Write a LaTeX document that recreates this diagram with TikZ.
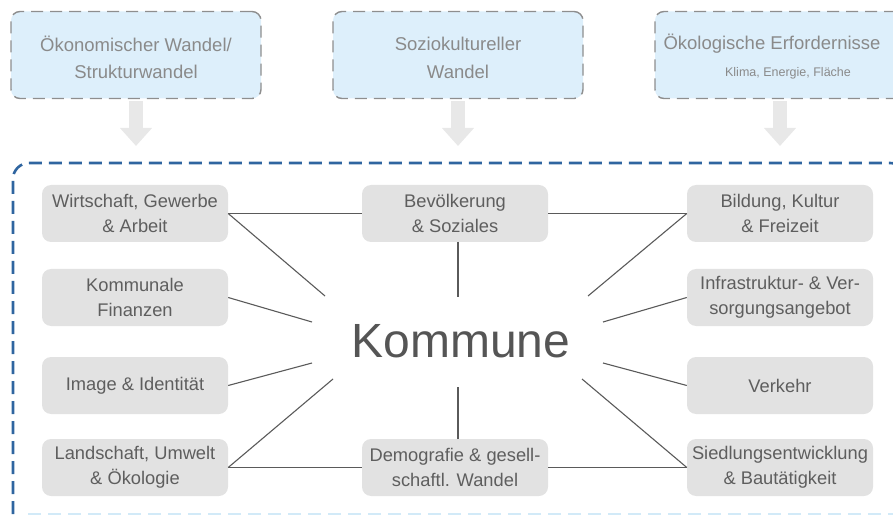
\documentclass[tikz,border=0pt]{standalone}
\usepackage{fontspec}
\setmainfont{Liberation Sans}
\usetikzlibrary{arrows.meta}
\definecolor{topfill}{HTML}{DDEFFB}
\definecolor{topdash}{HTML}{8E8E8E}
\definecolor{toptext}{HTML}{8A8A8A}
\definecolor{boxfill}{HTML}{E2E2E2}
\definecolor{boxtext}{HTML}{5E5E5E}
\definecolor{linecol}{HTML}{5A5A5A}
\definecolor{contblue}{HTML}{2F65A0}
\definecolor{contlight}{HTML}{D2EAF8}
\definecolor{arrowgrey}{HTML}{E8E8E8}
\definecolor{kommcol}{HTML}{555555}
\tikzset{
  topbox/.style={draw=topdash, fill=topfill, line width=1.4pt, dash pattern=on 12pt off 7pt,
    rounded corners=9pt, minimum width=250pt, minimum height=87pt, inner sep=0pt},
  toptxt/.style={text=toptext, font=\fontsize{18.5}{28}\selectfont, align=center, inner sep=0pt},
  subtxt/.style={text=toptext, font=\fontsize{12.5}{15}\selectfont, inner sep=0pt},
  themebox/.style={fill=boxfill, rounded corners=9pt, minimum width=186pt, minimum height=57pt,
    inner sep=0pt, text=boxtext, font=\fontsize{18.3}{25}\selectfont, align=center},
  conn/.style={draw=linecol, line width=1.1pt},
  bigarrow/.style={draw=arrowgrey, line width=14pt, -{Triangle[width=31pt,length=18pt]}},
}
\begin{document}
\begin{tikzpicture}[x=1pt,y=-1pt]
\useasboundingbox (0,0) rectangle (893,518);
% top boxes
\node[topbox] (t1) at (136,55) {};
\node[topbox] (t2) at (458,55) {};
\node[topbox] (t3) at (780,55) {};
\node[toptxt] (t1a) at (136,44) {Ökonomischer Wandel/};
\node[toptxt] (t1b) at (136,72) {Strukturwandel};
\node[toptxt] (t2a) at (458,44) {Soziokultureller};
\node[toptxt] (t2b) at (458,72) {Wandel};
\node[toptxt] (t3a) at (772,44) {Ökologische Erfordernisse};
\node[subtxt] (t3b) at (788,73) {Klima, Energie, Fläche};
% arrows
\coordinate (a1s) at (136,101); \coordinate (a1e) at (136,146);
\coordinate (a2s) at (458,101); \coordinate (a2e) at (458,146);
\coordinate (a3s) at (780,101); \coordinate (a3e) at (780,146);
\draw[bigarrow] (a1s) -- (a1e);
\draw[bigarrow] (a2s) -- (a2e);
\draw[bigarrow] (a3s) -- (a3e);
% container
\draw[contlight, line width=2pt, dash pattern=on 13pt off 7pt] (28,514) -- (893,514);
\draw[contblue, line width=2.6pt, dash pattern=on 13pt off 7pt, rounded corners=16pt]
  (13,514) -- (13,163) -- (906,163) -- (906,514);
% theme boxes
\node[themebox] (w) at (135,213.5) {Wirtschaft, Gewerbe\\\& Arbeit};
\node[themebox] (k) at (135,297.5) {Kommunale\\Finanzen};
\node[themebox] (i) at (135,385.5) {Image \& Identität};
\node[themebox] (l) at (135,467.5) {Landschaft, Umwelt\\\& Ökologie};
\node[themebox] (b) at (455,213.5) {Bevölkerung\\\& Soziales};
\node[themebox] (d) at (455,467.5) {Demografie \& gesell-\\schaftl. Wandel};
\node[themebox] (bi) at (780,213.5) {Bildung, Kultur\\\& Freizeit};
\node[themebox] (in) at (780,297.5) {Infrastruktur- \& Ver-\\sorgungsangebot};
\node[themebox] (v) at (780,385.5) {Verkehr};
\node[themebox] (s) at (780,467.5) {Siedlungsentwicklung\\\& Bautätigkeit};
% center
\node[text=kommcol, font=\fontsize{48}{50}\selectfont, anchor=base, inner sep=0pt] (kom) at (461,357) {Kommune};
% free ends
\coordinate (cw) at (325,296);
\coordinate (ck) at (312,322);
\coordinate (cb) at (458,297);
\coordinate (cbi) at (588,296);
\coordinate (cin) at (603,322);
\coordinate (ci) at (312,363);
\coordinate (cl) at (333,379);
\coordinate (cd) at (458,387);
\coordinate (cv) at (603,363);
\coordinate (cs) at (582,379);
\coordinate (bbot) at (458,242);
\coordinate (dtop) at (458,439);
% connectors
\draw[conn] (w.east) -- (b.west);
\draw[conn] (w.east) -- (cw);
\draw[conn] (k.east) -- (ck);
\draw[conn] (bbot) -- (cb);
\draw[conn] (b.east) -- (bi.west);
\draw[conn] (bi.west) -- (cbi);
\draw[conn] (in.west) -- (cin);
\draw[conn] (i.east) -- (ci);
\draw[conn] (l.east) -- (cl);
\draw[conn] (l.east) -- (d.west);
\draw[conn] (dtop) -- (cd);
\draw[conn] (v.west) -- (cv);
\draw[conn] (s.west) -- (cs);
\draw[conn] (d.east) -- (s.west);
\end{tikzpicture}
\end{document}
